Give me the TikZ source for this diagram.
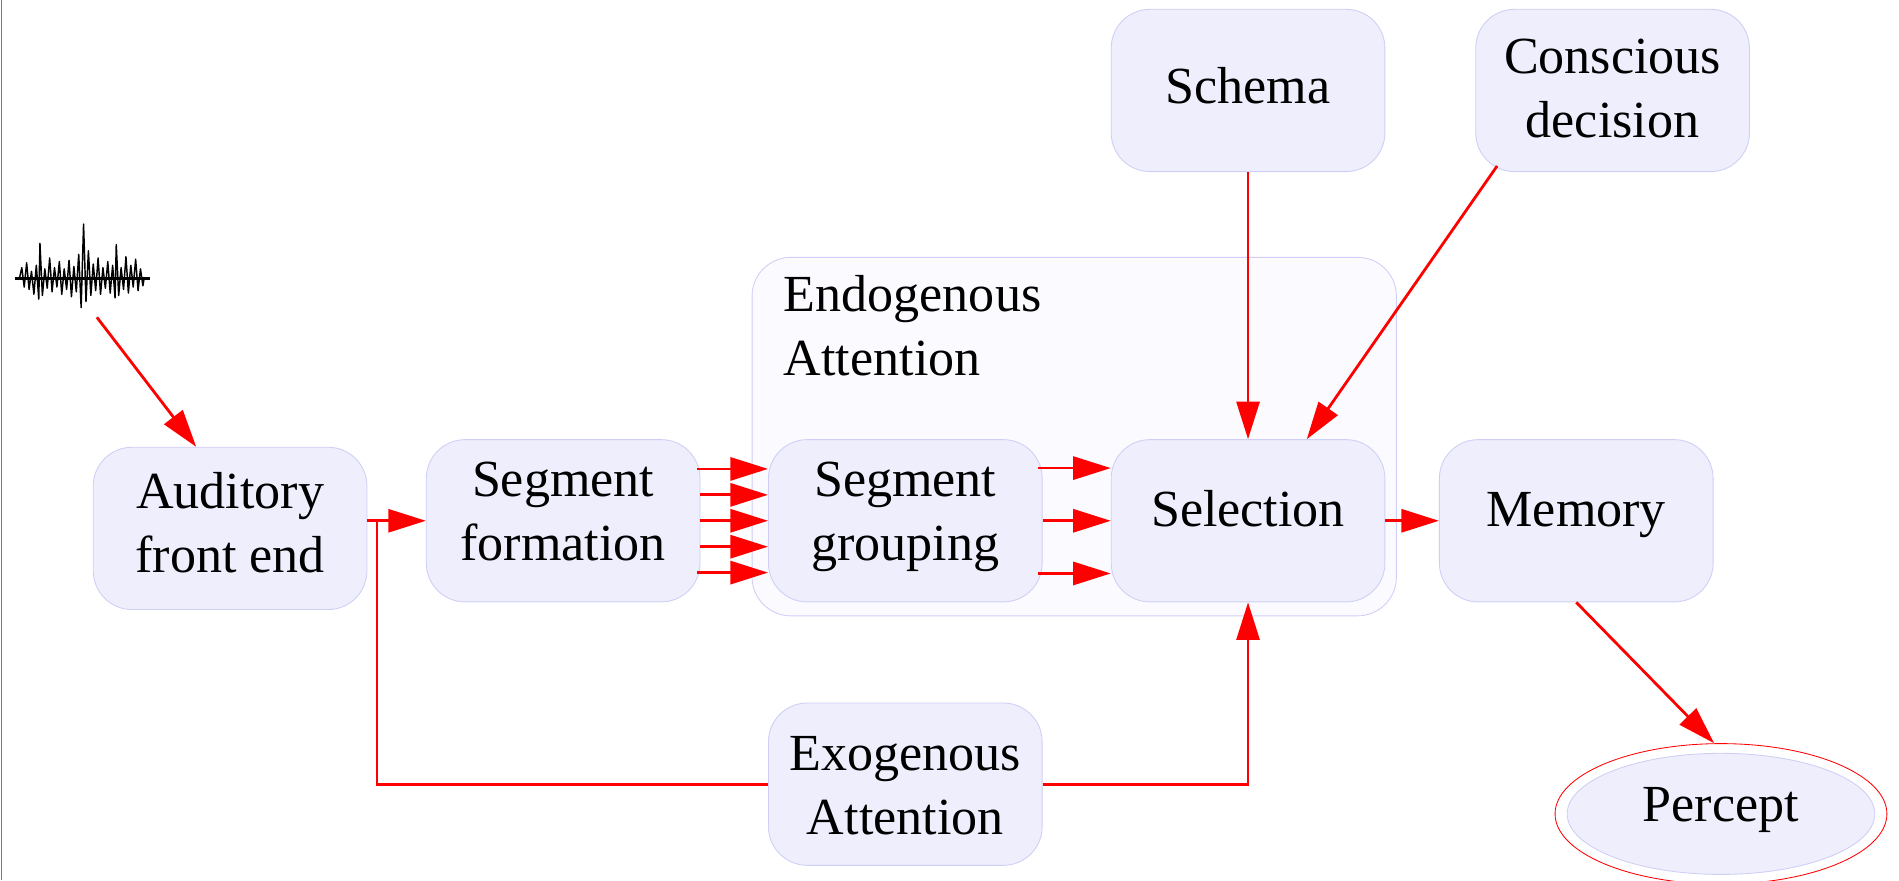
\documentclass[tikz,border=0pt]{standalone}
\usepackage{fontspec}
\setmainfont{Liberation Serif}
\usetikzlibrary{arrows.meta,shapes.geometric,calc}
\definecolor{nodefill}{RGB}{238,238,253}
\definecolor{nodeline}{RGB}{206,206,246}
\definecolor{clusterfill}{RGB}{251,251,255}
\definecolor{edgeblue}{RGB}{110,110,228}
% line strut: depth #1, height 53pt-#1 (one baselineskip in total)
\newcommand\bs[1]{\rule[-#1pt]{0pt}{53pt}}
\begin{document}
\begin{tikzpicture}[x=1pt,y=-1pt,
  txt/.style={font=\fontsize{43pt}{53pt}\selectfont},
  box/.style={txt, draw=nodeline, fill=nodefill, line width=0.7pt,
    rounded corners=32pt, minimum width=226pt, minimum height=134pt,
    inner sep=0pt, align=center},
  flow/.style={draw=red, line width=2.3pt, -{Triangle[length=31pt,width=19pt]}},
  link/.style={draw=red, line width=2.3pt},
]
\fill[white] (0,0) rectangle (1568,727);
\useasboundingbox (0,0) rectangle (1568,727);
\draw[edgeblue, line width=1pt] (1.2,0) -- (1.2,727);

% endogenous attention cluster
\node[draw=nodeline, fill=clusterfill, line width=0.7pt, rounded corners=32pt,
  minimum width=532pt, minimum height=296pt, inner sep=0pt] (endo) at (887,360.5) {};
\node[txt, anchor=north west, inner sep=0pt, align=left] (endolabel) at (647,223.8)
  {\bs{20}Endogenous\\\bs{20}Attention};

% processing stages
\node[box] (afe) at (190,436.3) {\bs{16.6}Auditory\\\bs{16.6}front end};
\node[box] (sf) at (465,430) {\bs{20}Segment\\\bs{20}formation};
\node[box] (sg) at (747.5,430) {\bs{20}Segment\\\bs{20}grouping};
\node[box] (sel) at (1030.5,430) {\bs{22}Selection};
\node[box] (mem) at (1301.5,430) {\bs{22}Memory};
\node[box] (schema) at (1030.5,74.7) {\bs{15.5}Schema};
\node[box] (cd) at (1331.5,74.7) {\bs{14}Conscious\\\bs{14}decision};
\node[box] (exo) at (747.5,647.5) {\bs{11.7}Exogenous\\\bs{11.7}Attention};

% percept (double ellipse)
\node[ellipse, draw=red, line width=0.7pt, fill=white, minimum width=274pt,
  minimum height=116pt, inner sep=0pt] (percept) at (1421,672) {};
\node[txt, ellipse, draw=nodeline, fill=nodefill, line width=0.7pt, minimum width=254pt,
  minimum height=100pt, inner sep=0pt] (perceptin) at (percept.center) {\bs{20}Percept};

% input waveform
\draw[line width=1.8pt] (12.4,230) -- (124,230);
\draw[line width=1.2pt, line join=round] plot coordinates {
 (16,230) (18,221) (20,237) (22,217) (24,239) (26,224) (28,243) (30,219) (32,247)
 (33,201) (35,244) (37,222) (39,238) (41,213) (43,241) (45,221) (47,237) (49,216)
 (51,243) (53,222) (55,239) (57,215) (59,245) (61,220) (63,241) (65,210) (67,254)
 (69,185) (71,249) (73,207) (75,244) (77,218) (79,240) (81,213) (83,243) (85,221)
 (87,238) (89,216) (91,242) (93,219) (95,246) (96,202) (98,244) (100,221) (102,239)
 (104,212) (106,242) (108,219) (110,237) (112,214) (114,240) (116,222) (118,236)
 (119,230)};
\coordinate (wavetail) at (80,262);

% connectors
\draw[flow] (wavetail) -- ($(afe.north)+(-28,0)$);
\draw[flow] (afe.east |- sf.west) -- (sf.west);
\coordinate (junc) at ($(afe.east |- sf.west)+(8,0)$);
\draw[link] (exo.west) -| (junc);
\draw[flow] (exo.east) -| (sel.south);

\draw[flow] ($(sf.east)+(-3,-42.8)$) -- ($(sg.west)+(0,-42.8)$);
\draw[flow] ($(sf.east)+(0,-21.4)$) -- ($(sg.west)+(0,-21.4)$);
\draw[flow] (sf.east) -- (sg.west);
\draw[flow] ($(sf.east)+(0,21.4)$) -- ($(sg.west)+(0,21.4)$);
\draw[flow] ($(sf.east)+(-3,42.8)$) -- ($(sg.west)+(0,42.8)$);

\draw[flow] ($(sg.east)+(-3.5,-43.5)$) -- ($(sel.west)+(0,-43.5)$);
\draw[flow] (sg.east) -- (sel.west);
\draw[flow] ($(sg.east)+(-3.5,43.5)$) -- ($(sel.west)+(0,43.5)$);

\draw[flow] (sel.east) -- (mem.west);
\draw[flow] (schema.south) -- (sel.north);
\draw[flow] ($(cd.south west)+(18,-5)$) -- ($(sel.north)+(48.5,0)$);
\draw[flow] (mem.south) -- ($(percept.north)+(-5.7,0)$);
\end{tikzpicture}
\end{document}
